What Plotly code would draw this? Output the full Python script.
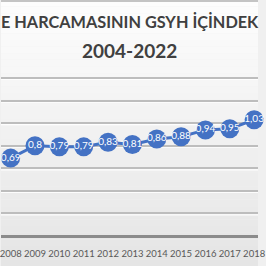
import plotly.graph_objects as go

# Data (visible part of the chart)
years = [2008, 2009, 2010, 2011, 2012, 2013, 2014, 2015, 2016, 2017, 2018]
values = [0.69, 0.80, 0.79, 0.79, 0.83, 0.81, 0.86, 0.88, 0.94, 0.95, 1.03]
labels = [("%g" % v).replace(".", ",") for v in values]
title_line1 = "E HARCAMASININ GSYH İÇİNDEK"
title_line2 = "2004-2022"
grid_vals = [0.2, 0.4, 0.6, 0.8, 1.0, 1.2, 1.4]

W = H = 266
BLUE = "#4472C4"
TITLE_FONT = "Lato, sans-serif"
BODY_FONT = "Lato, Liberation Sans, sans-serif"

fig = go.Figure()
fig.add_trace(go.Scatter(
    x=years, y=values, mode="lines+markers+text",
    line=dict(color=BLUE, width=3),
    marker=dict(color=BLUE, size=19, line=dict(width=0)),
    text=labels, textposition="middle center",
    textfont=dict(color="white", size=10, family=BODY_FONT),
    cliponaxis=False, hoverinfo="skip",
))

shapes = []
# background vertical gradient (decorative bands)
n = 40
for i in range(n):
    t = i / (n - 1)
    c = int(round(253 - t * (253 - 229)))
    shapes.append(dict(type="rect", xref="paper", yref="paper",
                       x0=0, x1=1, y0=1 - (i + 1) / n, y1=1 - i / n,
                       fillcolor=f"rgb({c},{c},{c})", line=dict(width=0),
                       layer="below"))
# top border strip
shapes.append(dict(type="line", xref="paper", yref="paper", x0=0, x1=1,
                   y0=1 - 1 / H, y1=1 - 1 / H,
                   line=dict(color="#c4c4c4", width=2), layer="above"))
# white highlights below gridlines (embossed look)
for g in grid_vals + [0]:
    shapes.append(dict(type="line", xref="paper", yref="y", x0=0, x1=1,
                       ysizemode="pixel", yanchor=g, y0=-1.5, y1=-1.5,
                       line=dict(color="rgba(255,255,255,0.9)", width=1.2),
                       layer="below"))

y_bottom_px = 236
px_per_unit = (236 - 78) / 1.4
ymax = 1.5
y_top_px = y_bottom_px - ymax * px_per_unit
px_per_year = 25.2
x_left = 2008 - 10 / px_per_year
x_right = x_left + W / px_per_year

fig.update_layout(
    width=W, height=H,
    margin=dict(l=0, r=0, t=0, b=0),
    paper_bgcolor="rgb(240,240,240)",
    plot_bgcolor="rgba(0,0,0,0)",
    showlegend=False,
    shapes=shapes,
    xaxis=dict(range=[x_left, x_right], tickmode="array", tickvals=years,
               ticktext=[str(y) for y in years], showgrid=False,
               zeroline=False, showline=False, ticklabeloverflow="allow",
               tickangle=0,
               ticks="outside", ticklen=9, tickcolor="rgba(0,0,0,0)",
               tickfont=dict(size=9.5, color="#595959", family=BODY_FONT)),
    yaxis=dict(range=[0, ymax], domain=[(H - y_bottom_px) / H, (H - y_top_px) / H],
               tickvals=grid_vals + [0], showticklabels=False,
               showgrid=True, gridcolor="#bdbdbd", gridwidth=1.5,
               zeroline=True, zerolinecolor="#8c8c8c", zerolinewidth=2.5,
               showline=False),
    annotations=[
        dict(text="<b>" + title_line1 + "</b>", xref="paper", yref="paper",
             x=0.5, y=1 - 21 / H, xanchor="center", yanchor="middle",
             showarrow=False,
             font=dict(size=16.3, color="#404040", family=TITLE_FONT)),
        dict(text="<b>" + title_line2 + "</b>", xref="paper", yref="paper",
             x=0.5, y=1 - 50 / H, xanchor="center", yanchor="middle",
             showarrow=False,
             font=dict(size=19, color="#404040", family=TITLE_FONT)),
    ],
)

fig.write_html("out.html")
